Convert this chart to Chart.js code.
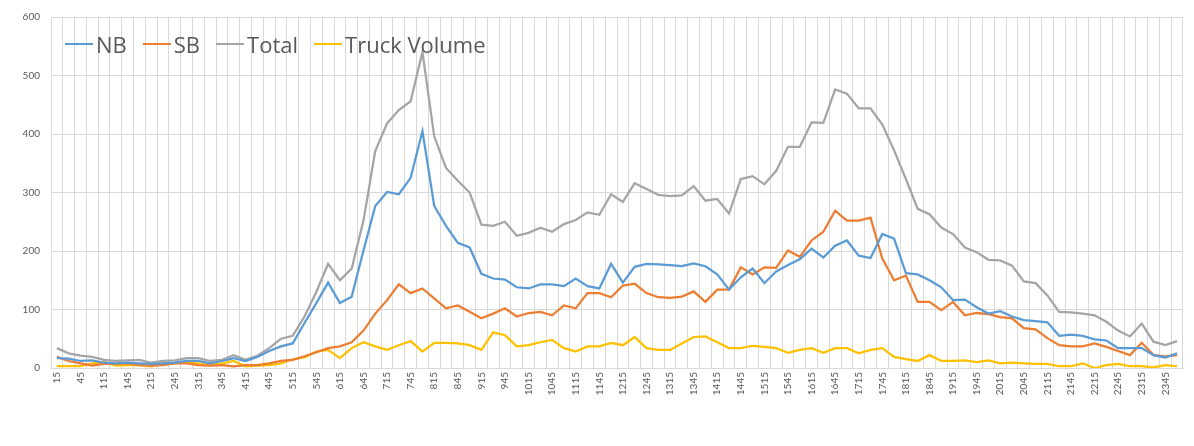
<!DOCTYPE html>
<html>
<head>
<meta charset="utf-8">
<script src="https://cdn.jsdelivr.net/npm/chart.js@4/dist/chart.umd.min.js"></script>
<style>
  html, body { margin: 0; padding: 0; background: #ffffff; }
  #wrap { position: relative; width: 1194px; height: 446px; }
  #legend { position: absolute; left: 65px; top: 29px; display: flex; align-items: center;
            font-family: "Open Sans", Lato, sans-serif; font-size: 22px; color: #595959; }
  #legend .item { display: flex; align-items: center; margin-right: 16px; }
  #legend .line { width: 28px; height: 2px; margin-right: 3px; }
</style>
</head>
<body>
<div id="wrap">
  <canvas id="c" width="1194" height="446"></canvas>
  <div id="legend"></div>
</div>
<script>
const categories = [
  "15","30","45","100","115","130","145","200","215","230","245","300","315","330","345","400",
  "415","430","445","500","515","530","545","600","615","630","645","700","715","730","745","800",
  "815","830","845","900","915","930","945","1000","1015","1030","1045","1100","1115","1130","1145","1200",
  "1215","1230","1245","1300","1315","1330","1345","1400","1415","1430","1445","1500","1515","1530","1545","1600",
  "1615","1630","1645","1700","1715","1730","1745","1800","1815","1830","1845","1900","1915","1930","1945","2000",
  "2015","2030","2045","2100","2115","2130","2145","2200","2215","2230","2245","2300","2315","2330","2345","0"
];

const nbValues = [
  17,16,12,13,9,8,9,8,7,8,9,12,12,8,12,17,
  12,19,29,37,42,77,111,146,111,122,201,277,301,297,325,405,
  277,243,214,206,161,153,151,138,136,143,143,140,153,140,136,178,
  146,173,178,177,176,174,179,174,160,134,155,170,145,165,176,186,
  204,189,209,218,192,188,229,221,162,160,150,138,116,117,104,93,
  97,88,82,80,78,55,57,55,49,47,34,34,34,22,18,25
];

const sbValues = [
  19,12,8,4,7,7,8,5,4,5,8,8,5,4,5,3,
  5,5,8,12,14,20,27,34,37,44,64,93,116,143,128,136,
  119,102,107,96,85,93,102,88,94,96,90,107,102,128,128,121,
  141,144,128,121,120,122,131,113,134,134,172,160,172,171,201,190,
  218,233,269,252,252,257,187,150,158,113,113,99,113,90,94,92,
  87,85,68,66,51,39,37,37,42,36,29,22,43,22,20,22
];

const totalValues = [
  34,25,21,19,14,12,13,14,9,12,13,17,17,12,14,22,
  14,21,34,50,55,88,130,178,150,170,252,371,418,441,456,540,
  396,342,320,300,245,243,250,226,231,240,233,246,253,266,262,297,
  284,316,306,296,294,295,311,286,289,264,323,328,314,337,378,378,
  420,419,476,469,444,444,416,372,323,272,263,240,229,206,198,185,
  184,175,148,145,124,96,95,93,90,79,64,54,76,45,39,46
];

const truckValues = [
  3,3,3,8,10,4,5,5,3,8,8,10,8,5,8,12,
  3,4,5,8,15,18,28,31,17,34,44,37,31,39,46,28,
  43,43,42,39,31,61,56,37,39,44,48,34,28,37,37,43,
  39,53,34,31,31,42,53,54,44,34,34,38,36,34,26,31,
  34,26,34,34,25,31,34,19,15,12,22,12,12,13,10,13,
  8,9,8,7,7,3,3,8,0,5,7,3,3,1,5,3
];

const yTicks = [0, 100, 200, 300, 400, 500, 600];

const seriesNames = ["NB", "SB", "Total", "Truck Volume"];
const seriesColors = ["#5b9bd5", "#ed7d31", "#a5a5a5", "#ffc000"];
const seriesData = [nbValues, sbValues, totalValues, truckValues];

const datasets = seriesNames.map((name, k) => ({
  label: name,
  data: seriesData[k],
  borderColor: seriesColors[k],
  backgroundColor: seriesColors[k],
  borderWidth: 2.25,
  pointRadius: 0,
  tension: 0,
  fill: false
}));

const chart = new Chart(document.getElementById('c'), {
  type: 'line',
  data: { labels: categories, datasets: datasets },
  options: {
    responsive: false,
    animation: false,
    events: [],
    layout: { padding: { left: 0, right: 11, top: 15, bottom: 0 } },
    plugins: { legend: { display: false }, tooltip: { enabled: false } },
    scales: {
      x: {
        type: 'category',
        offset: true,
        grid: { offset: true, color: '#d9d9d9', lineWidth: 1, drawTicks: false },
        border: { color: '#d9d9d9' },
        ticks: {
          autoSkip: false,
          maxRotation: 90,
          minRotation: 90,
          padding: 4,
          color: '#595959',
          font: { family: 'Lato, sans-serif', size: 10 },
          callback: function(val, idx) { return idx % 2 === 0 ? categories[idx] : ''; }
        },
        afterFit: function(s) { s.height = 78; }
      },
      y: {
        min: 0,
        max: 600,
        afterBuildTicks: function(s) { s.ticks = yTicks.map(v => ({ value: v })); },
        grid: { color: '#d9d9d9', lineWidth: 1, drawTicks: false },
        border: { display: false },
        ticks: {
          padding: 11,
          color: '#595959',
          font: { family: 'Lato, sans-serif', size: 10 }
        },
        afterFit: function(s) { s.width = 51; }
      }
    }
  }
});

// HTML legend built from the chart's datasets
const legendEl = document.getElementById('legend');
chart.data.datasets.forEach(ds => {
  const item = document.createElement('div');
  item.className = 'item';
  const line = document.createElement('span');
  line.className = 'line';
  line.style.background = ds.borderColor;
  const txt = document.createElement('span');
  txt.textContent = ds.label;
  item.appendChild(line);
  item.appendChild(txt);
  legendEl.appendChild(item);
});
</script>
</body>
</html>
